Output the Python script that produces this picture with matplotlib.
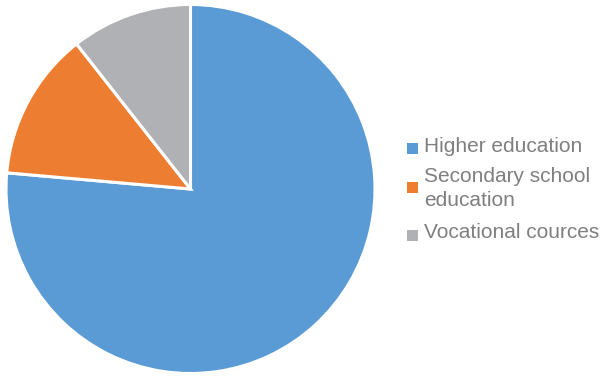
import matplotlib
matplotlib.use("Agg")
import matplotlib.pyplot as plt
from matplotlib.patches import Rectangle

categories = ["Higher education", "Secondary school\neducation", "Vocational cources"]
values = [76.4, 13.0, 10.6]
colors = ["#5B9BD5", "#ED7D31", "#B0B1B5"]

W, H = 603, 378
fig = plt.figure(figsize=(W / 100, H / 100), dpi=100)
plt.rcParams['font.family'] = ['Liberation Sans', 'DejaVu Sans']

cx, cy, r = 190.5, 189, 184.5
ax = fig.add_axes([(cx - r) / W, (H - cy - r) / H, 2 * r / W, 2 * r / H])
ax.pie(values, colors=colors, startangle=90, counterclock=False,
       wedgeprops=dict(edgecolor="white", linewidth=2.2))
ax.set_xlim(-1, 1)
ax.set_ylim(-1, 1)
ax.set_aspect("equal")

# legend
text_y = [147, 188.5, 233]
sq_y = [148, 187, 235]
for lab, col, ty, sy in zip(categories, colors, text_y, sq_y):
    fig.patches.append(Rectangle(((407) / W, (H - sy - 5.5) / H), 11 / W, 11 / H,
                                 transform=fig.transFigure, facecolor=col, edgecolor="none"))
    fig.text(424 / W, (H - ty) / H, lab, fontsize=15, color="#7F7F7F",
             va="center", ha="left", linespacing=1.28)

fig.savefig("out.png", dpi=100)
